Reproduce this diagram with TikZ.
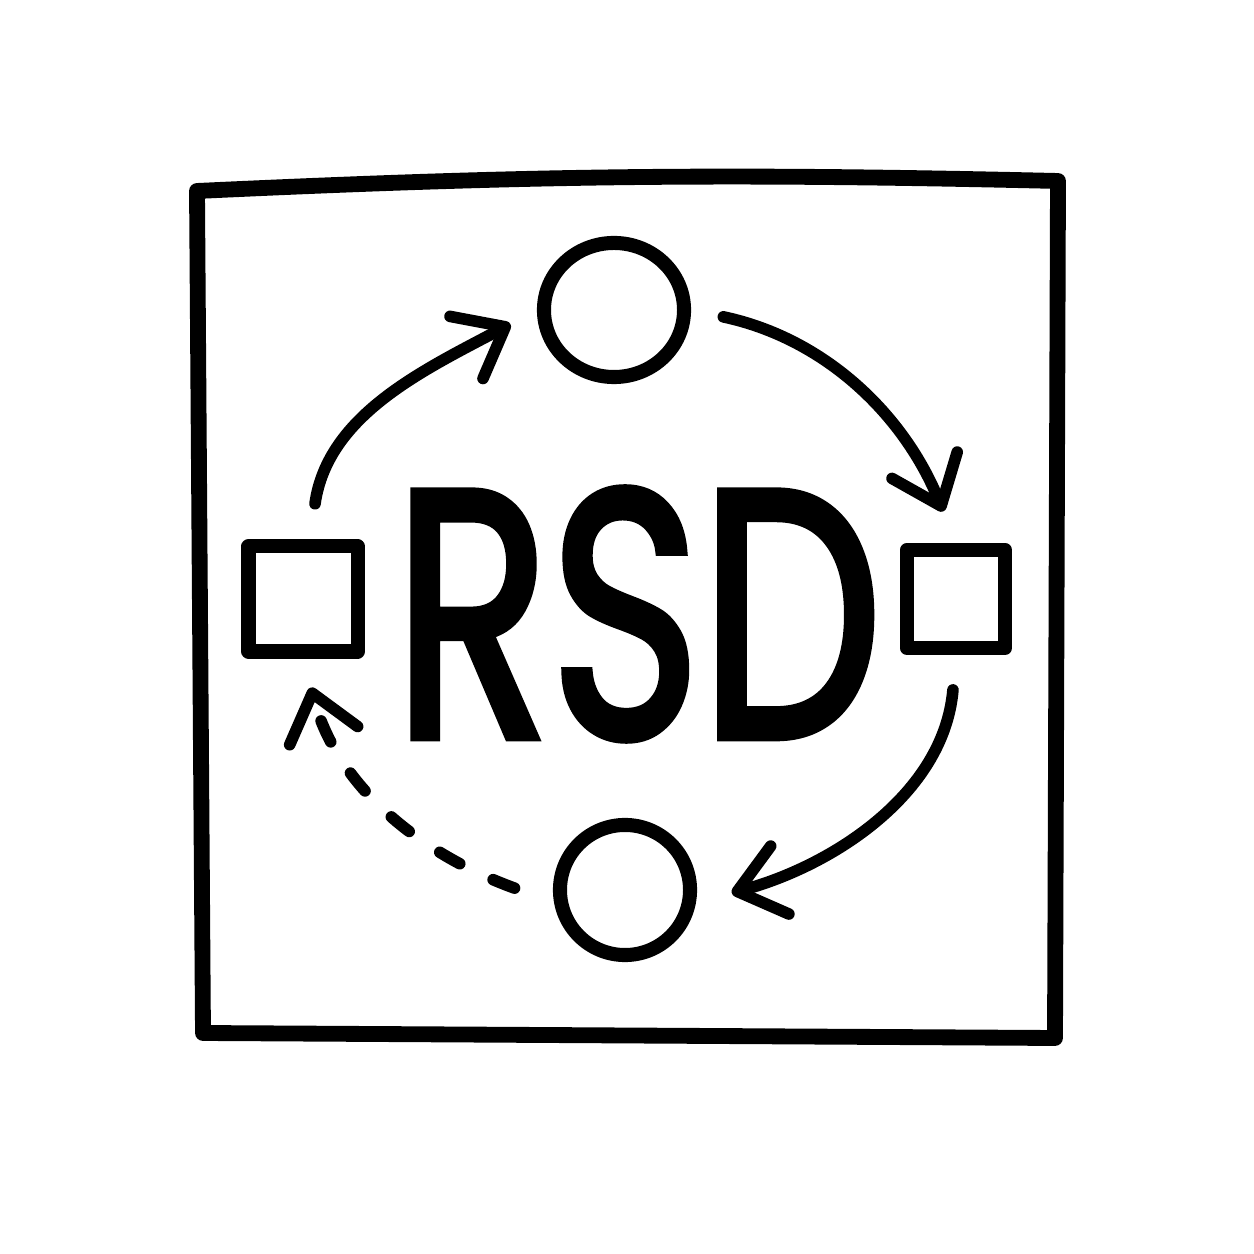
\documentclass[tikz,border=0pt]{standalone}
\usepackage{fontspec}
\setmainfont{Poppins}
\newfontfamily\logofont{Poppins}[FakeBold=2.5]
\usetikzlibrary{arrows.meta,shapes.geometric}

\begin{document}
\begin{tikzpicture}[x=0.01cm,y=0.01cm,
  ring/.style={ellipse,draw,line width=4pt,minimum width=1.30cm,minimum height=1.30cm,inner sep=0pt},
  box/.style={rectangle,draw,line width=4pt,inner sep=0pt,line join=round},
  flow/.style={line width=3.3pt,line cap=round,
    -{Straight Barb[length=12.5pt,width=20pt,line cap=round,line join=round]}},
  back/.style={flow,dash pattern=on 0.23cm off 0.37cm}]
\useasboundingbox (0,0) rectangle (1254,1254);
%
% frame
\draw[line width=4.5pt,line join=round] (197,1063) to[bend left=2] (1058,1073) -- (1055,216) -- (203,221) -- cycle;
% nodes
\node[ring,minimum width=1.40cm,minimum height=1.34cm] (top) at (614,944) {};
\node[ring] (bot) at (625,364) {};
\node[box,minimum width=1.09cm,minimum height=1.05cm] (lsq) at (303,655) {};
\node[box,minimum width=0.98cm,minimum height=0.98cm] (rsq) at (956,655) {};
% label
\node[font=\logofont\fontsize{100}{100}\selectfont,xscale=0.73] (rsd) at (638,640) {RSD};
% loop
\draw[flow,shorten <=0.36cm,shorten >=0.3cm] (lsq.north) ++(7,0) to[out=82,in=208] (top.west);
\draw[flow,shorten <=0.33cm,shorten >=0.34cm] (top.east) to[out=-12,in=112] (rsq.north);
\draw[flow,shorten <=0.35cm,shorten >=0.37cm] (rsq.south) to[out=-95,in=15] (bot.-10);
\draw[back,shorten <=0.42cm,shorten >=0.3cm] (bot.190) to[out=160,in=-75] (lsq.south);
\end{tikzpicture}
\end{document}
